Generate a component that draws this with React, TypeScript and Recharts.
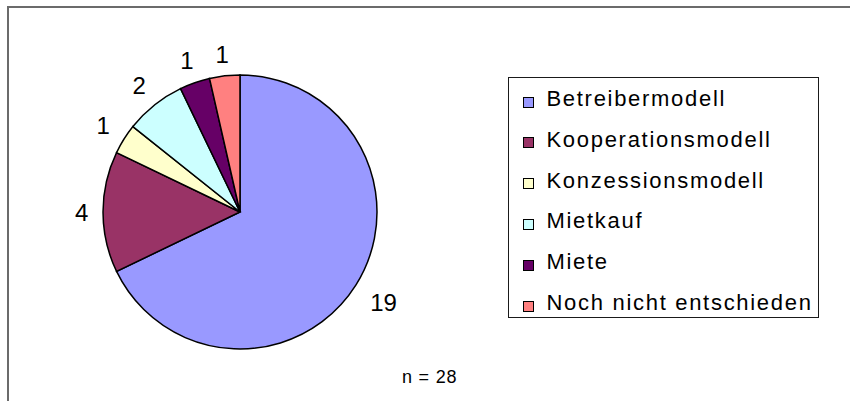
import React from 'react';
import { PieChart, Pie, Cell, Legend } from 'recharts';

const categories = [
  'Betreibermodell',
  'Kooperationsmodell',
  'Konzessionsmodell',
  'Mietkauf',
  'Miete',
  'Noch nicht entschieden',
];
const counts = [19, 4, 1, 2, 1, 1];
const colors = ['#9999FF', '#993366', '#FFFFCC', '#CCFFFF', '#660066', '#FF8080'];
const noteText = 'n = 28';

const data = categories.map((name, i) => ({ name, value: counts[i] }));

const FONT = "'Liberation Sans', Arial, Helvetica, sans-serif";
const RAD = Math.PI / 180;

const renderLabel = (props: any) => {
  const { cx, cy, midAngle, outerRadius, value } = props;
  const s = String(value);
  const w = s.length * 0.556 * 24;
  const h = 18;
  const c = Math.cos(-midAngle * RAD);
  const sn = Math.sin(-midAngle * RAD);
  const r = outerRadius + 12 + Math.abs(c) * w * 0.7 + (Math.abs(sn) * h) / 2;
  return (
    <text
      x={cx + r * c}
      y={cy + r * sn}
      textAnchor="middle"
      dominantBaseline="central"
      fontSize={24}
      fontFamily={FONT}
      fill="#000"
    >
      {s}
    </text>
  );
};

const LegendBox = () => (
  <div
    style={{
      width: 311,
      height: 241,
      boxSizing: 'border-box',
      border: '1.5px solid #1a1a1a',
      background: '#fff',
      position: 'relative',
      fontFamily: FONT,
      color: '#000',
    }}
  >
    {categories.map((c, i) => (
      <React.Fragment key={c}>
        <div
          style={{
            position: 'absolute',
            left: 13.5,
            top: 18.5 + i * 40.8,
            width: 11,
            height: 11,
            boxSizing: 'border-box',
            background: colors[i],
            border: '1.5px solid #000',
          }}
        />
        <div
          style={{
            position: 'absolute',
            left: 37.5,
            top: 10 + i * 40.8,
            fontSize: 22,
            lineHeight: '22px',
            letterSpacing: 1.7,
            whiteSpace: 'nowrap',
          }}
        >
          {c}
        </div>
      </React.Fragment>
    ))}
  </div>
);

export default function App() {
  return (
    <div
      style={{
        position: 'absolute',
        left: 0,
        top: 0,
        width: 850,
        height: 401,
        overflow: 'hidden',
        background: '#fff',
      }}
    >
      <div
        style={{
          position: 'absolute',
          left: 7,
          top: 6,
          width: 900,
          height: 500,
          borderTop: '2px solid #6b6b6b',
          borderLeft: '2px solid #6b6b6b',
        }}
      />
      <div style={{ position: 'absolute', left: 0, top: 0 }}>
        <PieChart width={850} height={401} margin={{ top: 0, right: 0, bottom: 0, left: 0 }}>
          <Pie
            data={data}
            dataKey="value"
            nameKey="name"
            cx={240}
            cy={212}
            outerRadius={137}
            startAngle={90}
            endAngle={-270}
            stroke="#000"
            strokeWidth={1.5}
            label={renderLabel}
            labelLine={false}
            isAnimationActive={false}
          >
            {data.map((d, i) => (
              <Cell key={d.name} fill={colors[i]} />
            ))}
          </Pie>
          <Legend
            content={<LegendBox />}
            wrapperStyle={{ position: 'absolute', left: 508, top: 77, width: 311, height: 241 }}
          />
        </PieChart>
      </div>
      <div
        style={{
          position: 'absolute',
          left: 402,
          top: 368,
          fontFamily: FONT,
          fontSize: 18,
          lineHeight: '18px',
          letterSpacing: 0.8,
          whiteSpace: 'nowrap',
          color: '#000',
        }}
      >
        {noteText}
      </div>
    </div>
  );
}
